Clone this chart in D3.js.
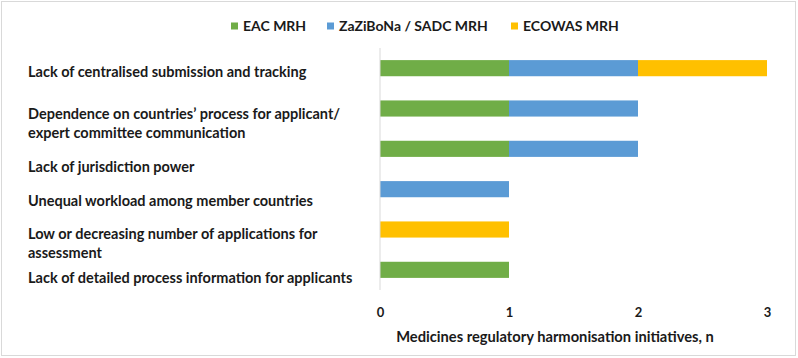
<!DOCTYPE html>
<html>
<head>
<meta charset="utf-8">
<script src="https://cdn.jsdelivr.net/npm/d3@7"></script>
<style>
  body { margin: 0; background: #fff; }
  svg { display: block; }
</style>
</head>
<body>
<script>
// Challenges reported, by harmonisation initiative (stacked counts)
const challenges = [
  ["Lack of centralised submission and tracking"],
  ["Dependence on countries\u2019 process for applicant/", "expert committee communication"],
  ["Lack of jurisdiction power"],
  ["Unequal workload among member countries"],
  ["Low or decreasing number of applications for", "assessment"],
  ["Lack of detailed process information for applicants"]
];
const seriesNames = ["EAC MRH", "ZaZiBoNa / SADC MRH", "ECOWAS MRH"];
const eac     = [1, 1, 1, 0, 0, 1];
const zazibona = [1, 1, 1, 1, 0, 0];
const ecowas  = [1, 0, 0, 0, 1, 0];
const xTicks = [0, 1, 2, 3];

// layout tweaks: labels in the original sit a little off the bar centres
const labelNudge = [4, 15, 18, 12, 14, 8];

const colors = ["#70AD47", "#5B9BD5", "#FFC000"];
const W = 798, H = 358;
const fontFam = "Lato, 'Liberation Sans', sans-serif";

const rows = challenges.map((c, i) => ({
  id: i, label: c, "EAC MRH": eac[i], "ZaZiBoNa / SADC MRH": zazibona[i], "ECOWAS MRH": ecowas[i]
}));

const svg = d3.select("body").append("svg")
  .attr("width", W).attr("height", H);

// chart border
svg.append("rect")
  .attr("x", 1.5).attr("y", 1.5)
  .attr("width", 794).attr("height", 354)
  .attr("fill", "#fff").attr("stroke", "#d9d9d9");

const x = d3.scaleLinear().domain([0, 3]).range([380, 767]);
const y = d3.scaleBand().domain(rows.map(d => d.id)).range([48, 290]).paddingInner(0.6).paddingOuter(0.3);

const stack = d3.stack().keys(seriesNames)(rows);

svg.append("g").selectAll("g")
  .data(stack)
  .join("g")
  .attr("fill", (d, i) => colors[i])
  .selectAll("rect")
  .data(d => d)
  .join("rect")
  .attr("x", d => x(d[0]))
  .attr("y", d => y(d.data.id))
  .attr("width", d => x(d[1]) - x(d[0]))
  .attr("height", y.bandwidth());

// vertical axis line
svg.append("line")
  .attr("x1", x(0)).attr("x2", x(0))
  .attr("y1", 48).attr("y2", 290)
  .attr("stroke", "#d9d9d9").attr("stroke-width", 1);

// x tick labels
const xAxis = svg.append("g")
  .attr("transform", "translate(0,305)")
  .call(d3.axisBottom(x).tickValues(xTicks).tickFormat(d3.format("d")).tickSize(0));
xAxis.select(".domain").remove();
xAxis.selectAll("text")
  .attr("font-family", fontFam)
  .attr("font-weight", "bold")
  .attr("font-size", 13)
  .attr("fill", "#1a1a1a");

// axis title
svg.append("text")
  .attr("x", 555).attr("y", 342)
  .attr("text-anchor", "middle")
  .attr("font-family", fontFam)
  .attr("font-weight", "bold")
  .attr("font-size", 14.7)
  .attr("fill", "#1a1a1a")
  .text("Medicines regulatory harmonisation initiatives, n");

// category labels, left aligned
const lineH = 18.5;
rows.forEach((d, i) => {
  const cy = y(d.id) + y.bandwidth() / 2 + labelNudge[i];
  const t = svg.append("text")
    .attr("x", 28)
    .attr("font-family", fontFam)
    .attr("font-weight", "bold")
    .attr("font-size", 14.5)
    .attr("fill", "#1a1a1a");
  const n = d.label.length;
  d.label.forEach((line, j) => {
    t.append("tspan")
      .attr("x", 28)
      .attr("y", cy + (j - (n - 1) / 2) * lineH)
      .attr("dy", "0.35em")
      .text(line);
  });
});

// legend
const legendPos = [231, 327, 511];
const legend = svg.append("g").selectAll("g")
  .data(seriesNames)
  .join("g")
  .attr("transform", (d, i) => `translate(${legendPos[i]},26)`);
legend.append("rect")
  .attr("x", 0).attr("y", -3.5)
  .attr("width", 7).attr("height", 7)
  .attr("fill", (d, i) => colors[i]);
legend.append("text")
  .attr("x", 12).attr("dy", "0.35em")
  .attr("font-family", fontFam)
  .attr("font-weight", "bold")
  .attr("font-size", 14)
  .attr("fill", "#1a1a1a")
  .text(d => d);
</script>
</body>
</html>
